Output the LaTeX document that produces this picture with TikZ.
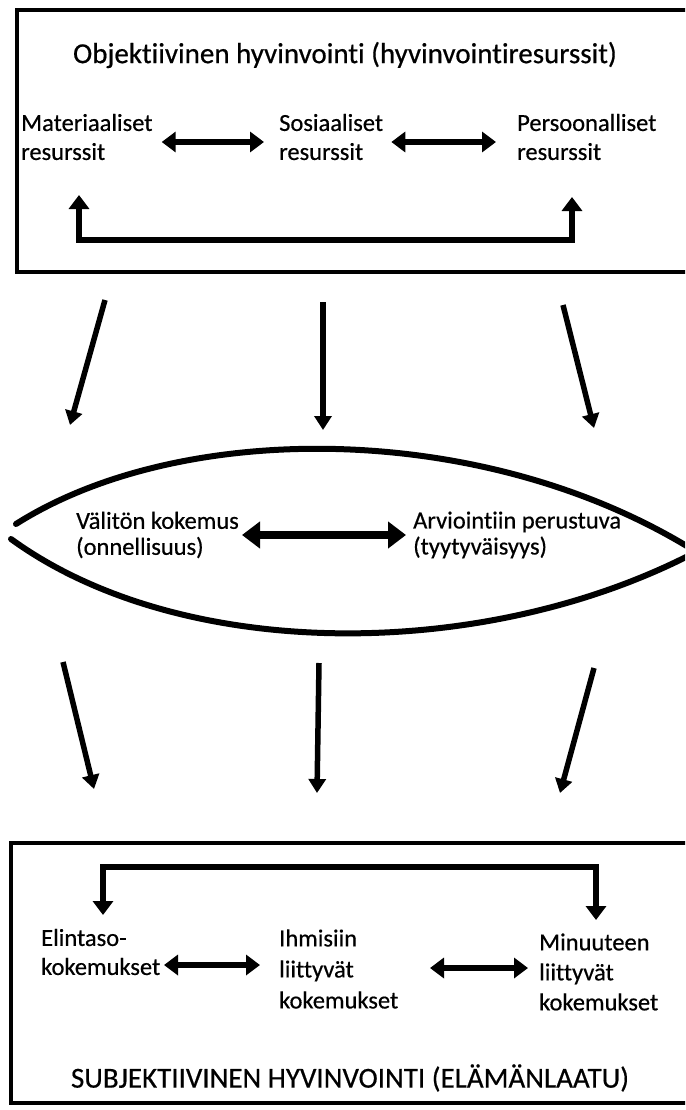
\documentclass[tikz,border=0pt]{standalone}
\usepackage{fontspec}
\setmainfont{Carlito}[RawFeature=-liga, FakeBold=0.5]
\usetikzlibrary{arrows.meta}
\begin{document}
\begin{tikzpicture}[x=1pt,y=-1pt,
  txt/.style={font=\fontsize{24.5}{29}\selectfont, inner sep=0pt, align=left, anchor=west},
  ttl/.style={font=\fontsize{29}{34}\selectfont, inner sep=0pt},
  frame/.style={line width=3.5pt},
  dbl/.style={line width=6pt, {Triangle[width=20pt,length=14pt]}-{Triangle[width=20pt,length=14pt]}},
  bigdbl/.style={line width=8pt, {Triangle[width=26pt,length=18pt]}-{Triangle[width=26pt,length=18pt]}},
  bracket/.style={line width=6pt, line join=miter, {Triangle[width=20pt,length=14pt]}-{Triangle[width=20pt,length=14pt]}},
  down/.style={line width=5.5pt, -{Triangle[width=17pt,length=14pt]}},
  lensline/.style={line width=6pt, line cap=round}
]
\useasboundingbox (0,0) rectangle (685,1110);
\clip (0,0) rectangle (685,1110);
\fill[white] (0,0) rectangle (685,1110);

% top box
\draw[frame] (17,10) rectangle (700,272);
\node[ttl] (toptitle) at (345,55) {Objektiivinen hyvinvointi (hyvinvointiresurssit)};
\node[txt] (mat) at (21,137) {Materiaaliset\\resurssit};
\node[txt] (sos) at (279,137) {Sosiaaliset\\resurssit};
\node[txt] (per) at (517,137) {Persoonalliset\\resurssit};
\draw[dbl] ([xshift=9pt,yshift=-5pt]mat.east) -- ([xshift=-15pt,yshift=-5pt]sos.west);
\draw[dbl] ([xshift=8pt,yshift=-5pt]sos.east) -- ([xshift=-21pt,yshift=-5pt]per.west);
\coordinate (ul) at (79,240);
\coordinate (ur) at (572,240);
\draw[bracket] (79,195) -- (ul) -- (ur) -- (572,197);

% arrows top -> lens
\coordinate (a1s) at (105,300); \coordinate (a1e) at (70,425);
\coordinate (a2s) at (323,302); \coordinate (a2e) at (323,430);
\coordinate (a3s) at (563,305); \coordinate (a3e) at (594,428);
\draw[down] (a1s) -- (a1e);
\draw[down] (a2s) -- (a2e);
\draw[down] (a3s) -- (a3e);

% lens
\draw[lensline] (16,524) .. controls (180,420) and (480,420) .. (690,548);
\draw[lensline] (11,539) .. controls (180,662) and (480,662) .. (690,555);
\node[txt, font=\fontsize{24.5}{26}\selectfont] (val) at (76,535) {Välitön kokemus\\(onnellisuus)};
\node[txt, font=\fontsize{24.5}{26}\selectfont] (arv) at (413,535) {Arviointiin perustuva\\(tyytyväisyys)};
\draw[bigdbl] (242,535) -- ([xshift=-7pt]arv.west |- 0,535);

% arrows lens -> bottom
\coordinate (b1s) at (63,662); \coordinate (b1e) at (94,789);
\coordinate (b2s) at (319,663); \coordinate (b2e) at (317,793);
\coordinate (b3s) at (594,668); \coordinate (b3e) at (560,793);
\draw[down] (b1s) -- (b1e);
\draw[down] (b2s) -- (b2e);
\draw[down] (b3s) -- (b3e);

% bottom box
\draw[frame] (11,843) rectangle (700,1103);
\coordinate (bl) at (103,867);
\coordinate (br) at (596,867);
\draw[bracket] (103,915) -- (bl) -- (br) -- (596,920);
\node[txt] (eli) at (41,952) {Elintaso-\\kokemukset};
\node[txt, font=\fontsize{24.5}{31}\selectfont] (ihm) at (279,969) {Ihmisiin\\liittyvät\\kokemukset};
\node[txt, font=\fontsize{24.5}{30}\selectfont] (min) at (539,972) {Minuuteen\\liittyvät\\kokemukset};
\draw[dbl] (164,965) -- (260,965);
\draw[dbl] (430,968) -- (528,968);
\node[ttl] (bottitle) at (350,1078) {SUBJEKTIIVINEN HYVINVOINTI (ELÄMÄNLAATU)};
\end{tikzpicture}
\end{document}
